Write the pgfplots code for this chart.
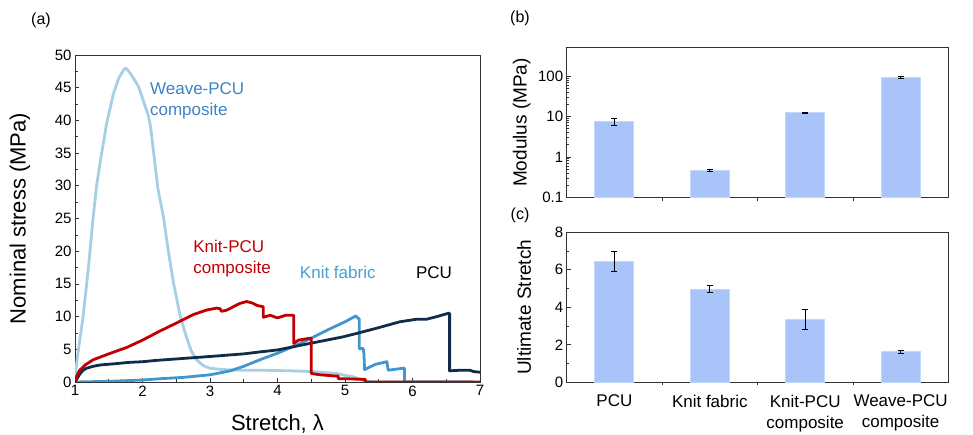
\documentclass[border=0pt]{standalone}
\usepackage{pgfplots}
\pgfplotsset{compat=1.18}
\usepackage{fontspec}
\setmainfont{Liberation Sans}

\definecolor{weave}{RGB}{166,206,228}
\definecolor{knitfab}{RGB}{65,150,205}
\definecolor{pcu}{RGB}{15,45,75}
\definecolor{knitpcu}{RGB}{192,0,0}
\definecolor{barfill}{RGB}{168,196,248}
\definecolor{baredge}{RGB}{196,214,250}
\definecolor{labblue}{RGB}{60,130,200}
\definecolor{labknit}{RGB}{70,160,210}

\newcommand{\tickfont}{\fontsize{15}{18}\selectfont}

\pgfplotsset{
  every axis/.append style={
    scale only axis,
    /pgf/number format/assume math mode=true,
    tick label style={font=\tickfont},
    axis line style={line width=0.8pt, black!80},
    tick style={black!80, line width=0.6pt},
    tick align=inside,
    major tick length=4pt,
    minor tick length=2.5pt,
    xtick pos=bottom,
    ytick pos=left,
  },
}

\begin{document}
\begin{tikzpicture}
\useasboundingbox (0,0) rectangle (973pt,435pt);

% (a) stress-stretch curves
\begin{axis}[
  at={(75pt,53pt)}, anchor=south west,
  width=405pt, height=327pt,
  xmin=1, xmax=7, ymin=0, ymax=50,
  xtick={1,...,7}, ytick={0,5,...,50},
  minor x tick num=1, minor y tick num=1,
  xlabel={Stretch, λ},
  ylabel={Nominal stress (MPa)},
  xlabel style={font=\fontsize{22}{26}\selectfont, at={(axis description cs:0.5,-0.128)}, anchor=center},
  ylabel style={font=\fontsize{22}{26}\selectfont, at={(axis description cs:-0.136,0.5)}, anchor=center},
  every axis plot/.append style={line width=2.8pt, line join=round},
]
% Weave-PCU composite
\addplot[weave] coordinates {
(1,0) (1.02,2.5) (1.05,4.9) (1.12,10) (1.2,17.6) (1.27,25.3) (1.32,30) (1.37,33.4)
(1.47,39.6) (1.57,44.1) (1.65,46.5) (1.72,47.7) (1.75,48.0) (1.79,47.6) (1.84,46.9)
(1.94,45.2) (2.01,43.1) (2.09,40.6) (2.12,39) (2.16,35.5) (2.23,29.4) (2.31,25.3)
(2.38,20.2) (2.46,15.1) (2.56,10) (2.65,6.9) (2.72,4.8) (2.8,3.4) (2.9,2.5) (3.0,2.1)
(3.2,1.9) (3.44,1.8) (3.8,1.8) (4.2,1.7) (4.5,1.6) (4.88,1.3) (5.0,1.0) (5.12,0.8)
(5.24,0.4) (5.3,0.1) (5.5,0) (6.9,0)
};
% Knit fabric
\addplot[knitfab] coordinates {
(1,0) (1.5,0.1) (2.0,0.3) (2.26,0.5) (2.6,0.7) (3.0,1.1) (3.3,1.7) (3.5,2.4) (3.74,3.4)
(4.0,4.4) (4.25,5.5) (4.5,6.7) (4.75,8.0) (5.0,9.2) (5.16,10.1) (5.2,9.7) (5.21,9.7)
(5.21,5.1) (5.27,5.1) (5.28,4.4) (5.29,1.9) (5.45,2.7) (5.62,3.1) (5.64,1.8) (5.86,2.1)
(5.88,2.1) (5.88,0) (6.9,0)
};
% PCU
\addplot[pcu] coordinates {
(1,0) (1.03,0.5) (1.07,1.2) (1.12,1.8) (1.17,2.1) (1.27,2.4) (1.37,2.6) (1.6,2.8)
(1.8,3.0) (2.0,3.1) (2.2,3.3) (2.6,3.6) (3.0,3.9) (3.5,4.3) (3.74,4.6) (4.0,4.9)
(4.48,5.9) (4.97,6.9) (5.2,7.5) (5.46,8.2) (5.81,9.2) (6.06,9.6) (6.21,9.6) (6.36,10.0)
(6.53,10.5) (6.55,10.5) (6.55,1.7) (6.7,1.8) (6.85,1.8) (6.9,1.6) (7,1.5)
};
% Knit-PCU composite
\addplot[knitpcu] coordinates {
(1,0) (1.03,1) (1.07,1.8) (1.15,2.6) (1.27,3.4) (1.5,4.3) (1.77,5.3) (2.0,6.4) (2.26,7.8)
(2.5,9.0) (2.75,10.3) (2.95,11) (3.1,11.3) (3.15,11.2) (3.17,10.8) (3.25,11.0) (3.44,12.0)
(3.54,12.3) (3.62,12.1) (3.7,11.7) (3.79,11.5) (3.79,9.9) (3.89,10.2) (4.0,9.8) (4.12,10.2)
(4.24,10.2) (4.24,5.9) (4.31,6.4) (4.48,6.7) (4.50,6.7) (4.50,1.3) (4.63,1.1) (4.88,0.9)
(4.9,0.9) (4.9,0.5) (5.0,0.5) (5.27,0.4) (5.3,0.4) (5.3,0) (7,0)
};
\node[labblue, anchor=west, align=left, inner sep=0pt, font=\fontsize{17}{21}\selectfont]
  at (axis cs:2.11,43.0) {Weave-PCU\\composite};
\node[knitpcu, anchor=west, align=left, inner sep=0pt, font=\fontsize{17}{21}\selectfont]
  at (axis cs:2.75,18.9) {Knit-PCU\\composite};
\node[labknit, anchor=west, inner sep=0pt, font=\fontsize{17}{21}\selectfont]
  at (axis cs:4.33,16.7) {Knit fabric};
\node[black, anchor=west, inner sep=0pt, font=\fontsize{17}{21}\selectfont]
  at (axis cs:6.05,16.7) {PCU};
\end{axis}

% (b) modulus
\begin{axis}[
  at={(566.7pt,237.7pt)}, anchor=south west,
  width=381.6pt, height=149.6pt,
  ymode=log, log origin=infty,
  xmin=-0.5, xmax=3.5, ymin=0.1, ymax=500,
  xtick={0.5,1.5,2.5}, xticklabels={},
  ytick={0.1,1,10,100}, yticklabels={0.1,1,10,100},
  ylabel={Modulus (MPa)},
  ylabel style={font=\fontsize{19}{22}\selectfont, at={(axis description cs:-0.118,0.5)}, anchor=center},
  ybar, bar width=39pt,
]
\addplot[fill=barfill, draw=baredge, line width=1pt,
  error bars/.cd, y dir=both, y explicit,
  error bar style={black, line width=1pt},
  error mark options={black, rotate=90, mark size=3pt, line width=1pt}]
  coordinates {
  (0,7.3) += (0,1.6) -= (0,1.4)
  (1,0.46) += (0,0.02) -= (0,0.02)
  (2,12.3) += (0,0.3) -= (0,0.3)
  (3,91) += (0,6) -= (0,6)
};
\end{axis}

% (c) ultimate stretch
\begin{axis}[
  at={(566.7pt,52.7pt)}, anchor=south west,
  width=381.6pt, height=150pt,
  xmin=-0.5, xmax=3.5, ymin=0, ymax=8,
  xtick={0,1,2,3},
  xticklabels={PCU, Knit fabric, Knit-PCU\\composite, Weave-PCU\\composite},
  xticklabel style={font=\fontsize{17}{21}\selectfont, align=center, anchor=north, yshift=-5pt},
  major x tick style={draw=none},
  minor xtick={0.5,1.5,2.5},
  ytick={0,2,4,6,8}, minor y tick num=1,
  ylabel={Ultimate Stretch},
  ylabel style={font=\fontsize{19}{22}\selectfont, at={(axis description cs:-0.112,0.5)}, anchor=center},
  ybar, bar width=39pt,
]
\addplot[fill=barfill, draw=baredge, line width=1pt,
  error bars/.cd, y dir=both, y explicit,
  error bar style={black, line width=1pt},
  error mark options={black, rotate=90, mark size=3pt, line width=1pt}]
  coordinates {
  (0,6.45) +- (0,0.55)
  (1,4.97) +- (0,0.17)
  (2,3.35) +- (0,0.55)
  (3,1.62) +- (0,0.08)
};
\end{axis}

\node[font=\fontsize{16}{19}\selectfont] at (41pt,415pt) {(a)};
\node[font=\fontsize{16}{19}\selectfont] at (520pt,417pt) {(b)};
\node[font=\fontsize{16}{19}\selectfont] at (520pt,220pt) {(c)};
\end{tikzpicture}
\end{document}
